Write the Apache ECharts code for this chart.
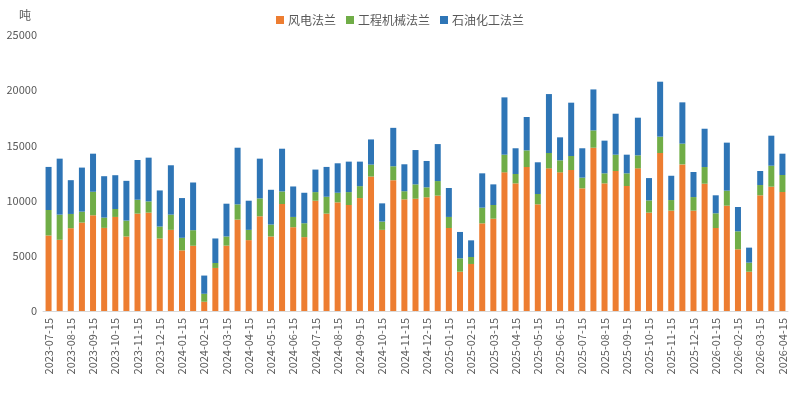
<!DOCTYPE html>
<html>
<head>
<meta charset="utf-8">
<script src="https://cdn.jsdelivr.net/npm/echarts@6/dist/echarts.min.js"></script>
<style>html,body{margin:0;padding:0;background:#fff}#c{width:800px;height:397px}</style>
</head>
<body>
<div id="c"></div>
<script>
const categories = [
"2023-07-15","2023-07-31","2023-08-15","2023-08-31","2023-09-15","2023-09-30","2023-10-15","2023-10-31",
"2023-11-15","2023-11-30","2023-12-15","2023-12-31","2024-01-15","2024-01-31","2024-02-15","2024-02-29",
"2024-03-15","2024-03-31","2024-04-15","2024-04-30","2024-05-15","2024-05-31","2024-06-15","2024-06-30",
"2024-07-15","2024-07-31","2024-08-15","2024-08-31","2024-09-15","2024-09-30","2024-10-15","2024-10-31",
"2024-11-15","2024-11-30","2024-12-15","2024-12-31","2025-01-15","2025-01-31","2025-02-15","2025-02-28",
"2025-03-15","2025-03-31","2025-04-15","2025-04-30","2025-05-15","2025-05-31","2025-06-15","2025-06-30",
"2025-07-15","2025-07-31","2025-08-15","2025-08-31","2025-09-15","2025-09-30","2025-10-15","2025-10-31",
"2025-11-15","2025-11-30","2025-12-15","2025-12-31","2026-01-15","2026-01-31","2026-02-15","2026-02-28",
"2026-03-15","2026-03-31","2026-04-15"
];
const windFlange = [
6840,6450,7500,8010,8670,7530,8520,6750,8820,8910,6570,7350,5490,5910,840,3900,
5920,8280,6420,8580,6750,9690,7590,6690,9990,8820,9840,9600,10230,12180,7350,11850,
10110,10170,10300,10450,7520,3560,4260,7940,8360,12560,11560,13040,9660,12920,12560,12770,
11110,14790,11560,12680,11320,12920,8910,14310,9090,13280,9090,11530,7520,9540,5590,3560,
10480,11260,10780
];
const machineryFlange = [
2310,2280,1290,990,2130,930,720,1440,1260,1020,1080,1380,1140,1410,720,450,
830,1380,930,1620,1080,1140,930,1260,780,1530,870,1170,1080,1080,750,1260,
740,1300,900,1320,1000,1210,630,1420,1240,1600,850,1510,940,1390,1090,1270,
970,1570,910,1480,1150,1180,1110,1480,960,1880,1230,1510,1330,1360,1630,820,
930,1900,1540
];
const petrochemFlange = [
3900,5070,3060,3990,3450,3750,3060,3600,3600,3960,3270,4470,3600,4320,1650,2220,
2970,5130,2640,3600,3150,3870,2760,2760,2040,2700,2670,2760,2220,2280,1650,3480,
2440,3110,2390,3350,2620,2390,1510,3110,1870,5190,2330,3020,2870,5340,2080,4830,
2660,3710,2960,3710,1690,3410,2020,4980,2200,3740,2270,3470,1630,4350,2200,1360,
1270,2720,1930
];
const yTicks = [0,5000,10000,15000,20000,25000];
const seriesNames = ["风电法兰","工程机械法兰","石油化工法兰"];

const chart = echarts.init(document.getElementById('c'), null, {renderer:'canvas'});
const font = '"Microsoft YaHei","Noto Sans CJK SC",sans-serif';
const labelColor = '#595959';
function mk(name, data, color){
  return {name:name, type:'bar', stack:'total', data:data, barWidth:'54%',
    itemStyle:{color:color}, emphasis:{disabled:true}};
}
chart.setOption({
  animation:false,
  textStyle:{fontFamily:font},
  title:{text:'吨', left:14, top:4, textStyle:{fontSize:12, fontWeight:'normal', color:labelColor, fontFamily:font}},
  legend:{top:9, left:'center', itemWidth:8, itemHeight:8, itemGap:10, icon:'rect',
    textStyle:{fontSize:12, color:labelColor, fontFamily:font, padding:[0,0,0,-1]}},
  grid:{left:43, right:12, top:35, bottom:86, containLabel:false},
  xAxis:{type:'category', data:categories,
    axisLine:{show:true, lineStyle:{color:'#d9d9d9'}}, axisTick:{show:false},
    axisLabel:{interval:1, rotate:90, fontSize:11, color:labelColor, margin:7, fontFamily:font}},
  yAxis:{type:'value', min:yTicks[0], max:yTicks[yTicks.length-1], interval:5000,
    axisLine:{show:false}, axisTick:{show:false}, splitLine:{show:false},
    axisLabel:{fontSize:11, color:labelColor, margin:6, fontFamily:font, formatter:function(v){return String(v);}}},
  series:[
    mk(seriesNames[0], windFlange, '#ED7D31'),
    mk(seriesNames[1], machineryFlange, '#70AD47'),
    mk(seriesNames[2], petrochemFlange, '#2E75B6')
  ]
});
</script>
</body>
</html>
